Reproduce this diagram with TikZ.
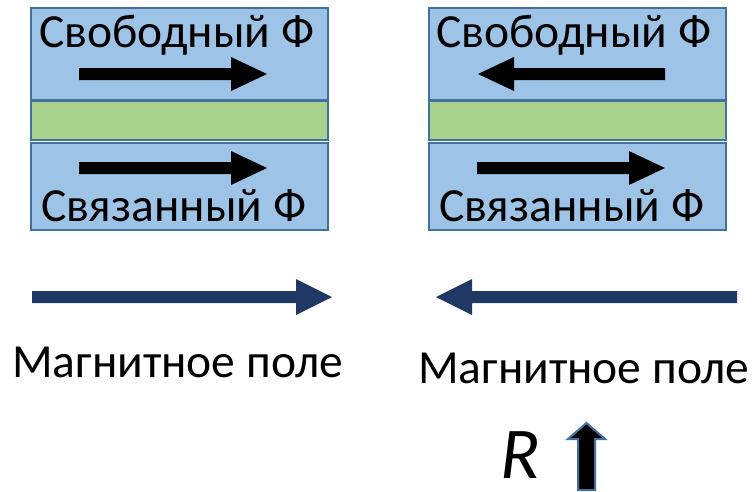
\documentclass[tikz,border=0pt]{standalone}
\usepackage{fontspec}
\setmainfont{Carlito}
\definecolor{boxblue}{HTML}{9DC3E6}
\definecolor{edgeblue}{HTML}{41719C}
\definecolor{layergreen}{HTML}{A9D18E}
\definecolor{navy}{HTML}{203864}
\tikzset{
  layer/.style={draw=edgeblue, line width=2pt, fill=boxblue},
  spacer/.style={draw=edgeblue, line width=2pt, fill=layergreen},
  lbl/.style={anchor=base west, inner sep=0pt, font=\fontsize{47.5}{55}\selectfont},
}
% block arrow: #1 start x, #2 head base x, #3 tip x, #4 centre y, #5 shaft half, #6 head half
\newcommand\blockarrowh[6]{%
  (#1,#4-#5) -- (#2,#4-#5) -- (#2,#4-#6) -- (#3,#4) -- (#2,#4+#6) -- (#2,#4+#5) -- (#1,#4+#5) -- cycle}
\begin{document}
\begin{tikzpicture}[x=1pt,y=-1pt]
\useasboundingbox (0,0) rectangle (753,491);
% left stack
\path[layer] (31,8) rectangle (328,100);
\path[spacer] (31,101) rectangle (328,140);
\path[layer] (31,143) rectangle (328,230);
% right stack
\path[layer] (429,8) rectangle (726,100);
\path[spacer] (429,101) rectangle (726,140);
\path[layer] (429,143) rectangle (726,230);
% labels in boxes
\node[lbl] (lfree) at (39,47) {Свободный Ф};
\node[lbl] (lfixed) at (41,221) {Связанный Ф};
\node[lbl] (rfree) at (436,47) {Свободный Ф};
\node[lbl] (rfixed) at (439,221) {Связанный Ф};
% magnetisation arrows
\fill[black] \blockarrowh{79}{231}{267}{74}{6}{17};
\fill[black] \blockarrowh{79}{231}{267}{168}{6}{17};
\fill[black] \blockarrowh{665}{514}{478}{74}{6}{17};
\fill[black] \blockarrowh{477}{629}{665}{168}{6}{17};
% field arrows
\fill[navy] \blockarrowh{32}{296}{332}{297}{6}{18};
\fill[navy] \blockarrowh{737}{472}{436}{297}{6}{18};
\node[lbl] (lfield) at (12,377) {Магнитное поле};
\node[lbl] (rfield) at (418,383) {Магнитное поле};
% R with up arrow
\node[anchor=base west, inner sep=0pt, font=\fontsize{73}{85}\selectfont\itshape] (res) at (500,478) {R};
\filldraw[fill=black, draw=edgeblue, line width=2pt]
  (578,490) -- (578,439) -- (568,439) -- (586.5,423) -- (605,439) -- (595,439) -- (595,490) -- cycle;
\end{tikzpicture}
\end{document}
